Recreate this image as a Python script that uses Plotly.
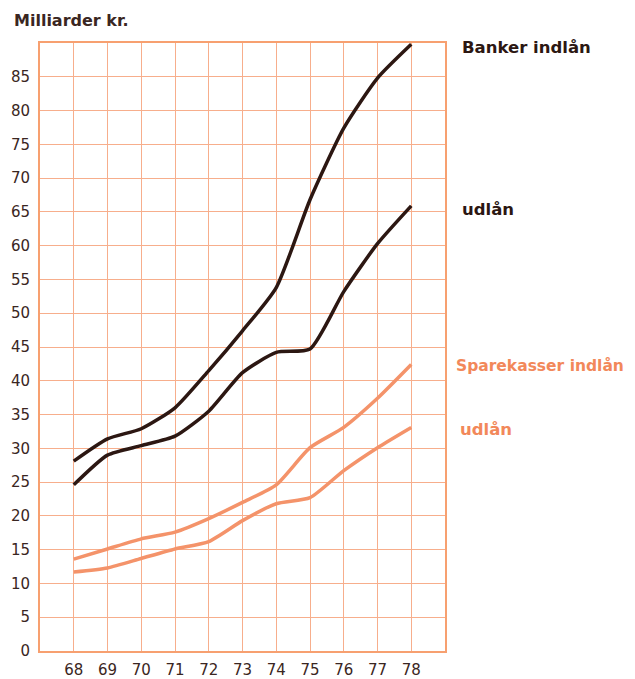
import plotly.graph_objects as go

years = [68, 69, 70, 71, 72, 73, 74, 75, 76, 77, 78]
year_labels = ["68", "69", "70", "71", "72", "73", "74", "75", "76", "77", "78"]
banker_indlaan = [28.1, 31.4, 32.9, 36.0, 41.5, 47.4, 53.8, 66.8, 77.4, 84.8, 89.8]
banker_udlaan = [24.6, 29.0, 30.4, 31.8, 35.5, 41.2, 44.2, 44.7, 53.2, 60.3, 65.9]
spare_indlaan = [13.6, 15.1, 16.6, 17.6, 19.6, 22.0, 24.6, 30.1, 33.1, 37.4, 42.4]
spare_udlaan = [11.7, 12.3, 13.7, 15.1, 16.2, 19.3, 21.8, 22.7, 26.7, 30.1, 33.1]
y_ticks = [0, 5, 10, 15, 20, 25, 30, 35, 40, 45, 50, 55, 60, 65, 70, 75, 80, 85]

DARK = "#2c1712"
ORANGE = "#f4936a"
GRID = "#f7ae8c"
BORDER = "#f7a070"
TXT = "#3a2622"
OTXT = "#f2885a"

fig = go.Figure()
for vals, col in [(spare_udlaan, ORANGE), (spare_indlaan, ORANGE),
                  (banker_udlaan, DARK), (banker_indlaan, DARK)]:
    fig.add_trace(go.Scatter(x=years, y=vals, mode="lines",
                             line=dict(color=col, width=3.5, shape="spline", smoothing=0.6),
                             showlegend=False, hoverinfo="skip"))

fig.update_xaxes(range=[67, 79], tickvals=years, ticktext=year_labels,
                 showgrid=True, gridcolor=GRID, gridwidth=1, automargin=False,
                 showline=True, linecolor=BORDER, linewidth=2, mirror=True,
                 zeroline=False, ticks="", ticklabelstandoff=4,
                 tickfont=dict(family="DejaVu Sans", size=15, color=TXT))
fig.update_yaxes(range=[0, 90], tickvals=y_ticks,
                 showgrid=True, gridcolor=GRID, gridwidth=1, automargin=False,
                 showline=True, linecolor=BORDER, linewidth=2, mirror=True,
                 zeroline=False, ticks="", ticklabelstandoff=5,
                 tickfont=dict(family="DejaVu Sans", size=15, color=TXT))

labels = [
    ("Banker indlån", 89.4, 15, DARK, 16.5),
    ("udlån", 65.4, 15, DARK, 16.5),
    ("Sparekasser indlån", 42.2, 9, OTXT, 15.5),
    ("udlån", 32.8, 13, OTXT, 16.5),
]
for txt, yv, xs, col, fs in labels:
    fig.add_annotation(x=79, y=yv, xref="x", yref="y", text=txt, showarrow=False,
                       xanchor="left", yanchor="middle", xshift=xs,
                       font=dict(family="DejaVu Sans", size=fs, color=col, weight="bold"))

fig.add_annotation(xref="paper", yref="paper", x=(4 - 32) / 405, y=1 + (35 - 12) / 608,
                   text="Milliarder kr.", showarrow=False, xanchor="left", yanchor="middle",
                   font=dict(family="DejaVu Sans", size=16, color=TXT, weight="bold"))

fig.update_layout(width=627, height=671, margin=dict(l=32, r=190, t=35, b=28),
                  plot_bgcolor="white", paper_bgcolor="white")
fig.write_html("out.html")
